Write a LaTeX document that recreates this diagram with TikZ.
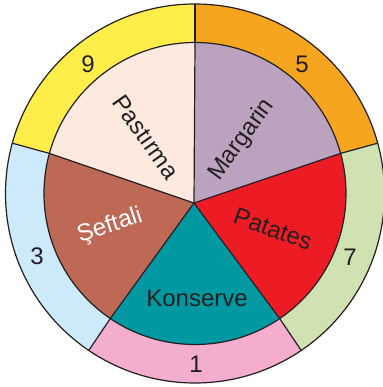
\documentclass[tikz,border=0pt]{standalone}
\usepackage{fontspec}
\setmainfont{Liberation Sans}
\definecolor{ink}{RGB}{35,31,32}
\definecolor{ringyellow}{RGB}{255,238,74}
\definecolor{ringorange}{RGB}{246,165,30}
\definecolor{ringgreen}{RGB}{208,226,178}
\definecolor{ringpink}{RGB}{243,174,207}
\definecolor{ringblue}{RGB}{205,234,250}
\definecolor{piepeach}{RGB}{253,234,222}
\definecolor{piemauve}{RGB}{187,163,192}
\definecolor{piered}{RGB}{237,28,36}
\definecolor{pieteal}{RGB}{0,153,161}
\definecolor{piebrown}{RGB}{190,104,86}
\tikzset{
  label/.style={font=\fontsize{24}{28}\selectfont, text=ink, inner sep=0pt},
  edge/.style={draw=ink, line width=1.2pt, line join=round}
}
\begin{document}
\begin{tikzpicture}[x=1pt,y=1pt]
\useasboundingbox (-195,-193.5) rectangle (187,193.5);
\coordinate (hub) at (-1,-9.5);
% ring pieces and pie pieces
\foreach \a/\b/\ring/\pie in {-55.9/15.4/ringgreen/piered, 15.4/90/ringorange/piemauve,
    90/164.6/ringyellow/piepeach, 164.6/235.9/ringblue/piebrown, 235.9/304.1/ringpink/pieteal} {
  \fill[\ring] (\a:151) -- (\a:189.5) arc[start angle=\a, end angle=\b, radius=189.5]
    -- (\b:151) arc[start angle=\b, end angle=\a, radius=151] -- cycle;
  \fill[\pie] (hub) -- (\a:151) arc[start angle=\a, end angle=\b, radius=151] -- cycle;
}
% outlines
\draw[edge] (0,0) circle (189.5);
\draw[edge] (0,0) circle (151);
\foreach \a in {90,15.4,-55.9,-124.1,164.6} {
  \draw[edge] (\a:151) -- (\a:189.5);
  \draw[edge] (hub) -- (\a:151);
}
% ring numbers
\node[label] (n9) at (-107,129.5) {9};
\node[label] (n5) at (107,129.5) {5};
\node[label] (n7) at (155,-63.5) {7};
\node[label] (n1) at (1,-170.5) {1};
\node[label] (n3) at (-158,-62.5) {3};
% pie names
\node[label, rotate=-55] (pastirma) at (-49,56.5) {Pastırma};
\node[label, rotate=54] (margarin) at (47,53.5) {Margarin};
\node[label, rotate=-20] (patates) at (78,-35.5) {Patates};
\node[label] (konserve) at (2,-104.5) {Konserve};
\node[label, rotate=18, text=white] (seftali) at (-85,-32.5) {Şeftali};
\end{tikzpicture}
\end{document}
